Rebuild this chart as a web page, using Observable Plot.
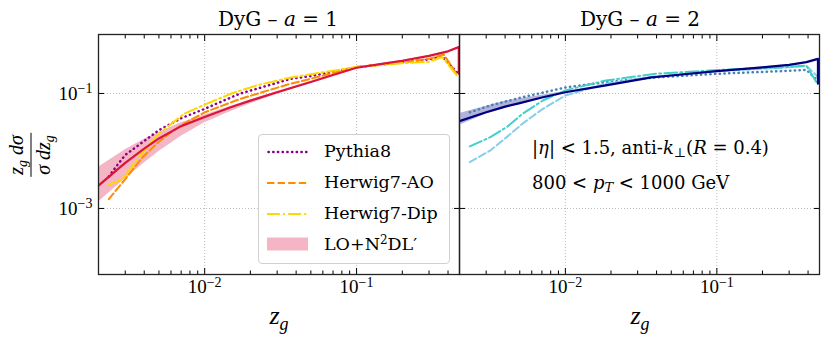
<!DOCTYPE html>
<html><head><meta charset="utf-8">
<script src="https://cdn.jsdelivr.net/npm/d3@7"></script>
<script src="https://cdn.jsdelivr.net/npm/@observablehq/plot@0.6"></script>
<style>
body{margin:0;background:#fff;}
#wrap{position:relative;width:830px;height:338px;font-family:"DejaVu Serif",serif;color:#000;overflow:hidden;}
.abs{position:absolute;white-space:nowrap;line-height:1;}
.title{font-size:20px;transform:translate(-50%,-50%);}
.xlab{font-family:"Liberation Serif",serif;font-size:26px;font-style:italic;transform:translate(-50%,-50%);}
.xlab sub{font-size:18px;vertical-align:-6px;}
.ann{font-size:18px;}
.legend{border:1px solid #d0d0d0;border-radius:4px;background:rgba(255,255,255,0.85);}
.lrow{position:absolute;left:0;height:20px;display:flex;align-items:center;font-size:17.5px;transform:translateY(-50%);}
.lrow svg{margin-left:8px;margin-right:16px;}
.ylab{font-family:"Liberation Serif",serif;transform:translate(-50%,-50%) rotate(-90deg);display:flex;flex-direction:column;align-items:center;font-size:20px;font-style:italic;}
.ylab .num{padding:0 2px 1px 2px;border-bottom:1px solid #000;}
.ylab .den{padding:1px 2px 0 2px;}
.ylab sub{font-size:14px;vertical-align:-4px;}
</style></head><body><div id="wrap"></div>
<script>
// ---------- axis ticks ----------
const X_DOMAIN = [0.002, 0.476];
const Y_DOMAIN = [7.1e-5, 1.06];
const X_MAJOR = [0.01, 0.1];
const X_MINOR = [0.003,0.004,0.005,0.006,0.007,0.008,0.009,0.02,0.03,0.04,0.05,0.06,0.07,0.08,0.09,0.2,0.3,0.4];
const Y_MAJOR = [0.1, 0.001];

// ---------- panel a = 1 ----------
const a1_theory_z = [0.002,0.003,0.004,0.005,0.007,0.01,0.015,0.02,0.03,0.05,0.07,0.1,0.15,0.2,0.3,0.4,0.471,0.471];
const a1_theory_y = [0.0025,0.0062,0.011,0.0165,0.027,0.039,0.058,0.075,0.105,0.158,0.21,0.28,0.33,0.37,0.45,0.54,0.64,0.22];
const a1_band_z  = [0.002,0.003,0.004,0.005,0.007,0.01,0.015,0.02,0.03,0.05,0.07,0.1,0.15,0.2,0.3,0.4,0.471];
const a1_band_lo = [0.0013,0.0033,0.0062,0.0098,0.018,0.031,0.049,0.066,0.097,0.15,0.203,0.274,0.325,0.363,0.443,0.532,0.63];
const a1_band_hi = [0.0052,0.0105,0.016,0.021,0.031,0.042,0.06,0.077,0.108,0.162,0.215,0.286,0.336,0.377,0.457,0.548,0.65];
const a1_py_z = [0.00234,0.0027,0.003,0.0035,0.005,0.007,0.01,0.017,0.037,0.05,0.1,0.2,0.3,0.366,0.46];
const a1_py_y = [0.0036,0.006,0.0085,0.0115,0.023,0.037,0.054,0.099,0.18,0.2,0.285,0.35,0.39,0.44,0.23];
const a1_ao_z = [0.00234,0.0027,0.0032,0.0039,0.005,0.006,0.007,0.01,0.0173,0.0368,0.05,0.1,0.2,0.3,0.375,0.46];
const a1_ao_y = [0.00145,0.0023,0.004,0.0078,0.0145,0.021,0.028,0.047,0.081,0.148,0.18,0.29,0.345,0.40,0.475,0.21];
const a1_dip_z = [0.00234,0.0028,0.0032,0.0037,0.0043,0.005,0.0073,0.01,0.015,0.022,0.037,0.05,0.1,0.2,0.3,0.366,0.46];
const a1_dip_y = [0.0026,0.0031,0.0047,0.0078,0.013,0.02,0.044,0.064,0.1,0.138,0.19,0.215,0.29,0.335,0.355,0.43,0.2];

// ---------- panel a = 2 ----------
const a2_theory_z = [0.002,0.003,0.004,0.005,0.007,0.01,0.0185,0.037,0.05,0.1,0.2,0.3,0.39,0.465,0.465];
const a2_theory_y = [0.033,0.047,0.059,0.068,0.085,0.105,0.138,0.19,0.205,0.245,0.285,0.315,0.35,0.40,0.148];
const a2_band_z  = [0.002,0.003,0.004,0.005,0.007,0.01,0.0185,0.037,0.05,0.1,0.2,0.3,0.39,0.465];
const a2_band_lo = [0.028,0.044,0.055,0.064,0.082,0.102,0.135,0.186,0.201,0.241,0.281,0.311,0.346,0.396];
const a2_band_hi = [0.045,0.060,0.073,0.081,0.093,0.108,0.141,0.194,0.209,0.249,0.289,0.319,0.354,0.404];
const a2_py_z = [0.00234,0.0032,0.0052,0.01,0.0185,0.04,0.1,0.27,0.39,0.46];
const a2_py_y = [0.047,0.062,0.086,0.127,0.157,0.19,0.22,0.245,0.258,0.17];
const a2_dip_z = [0.00234,0.0032,0.0041,0.0052,0.0071,0.01,0.0185,0.0394,0.1,0.274,0.39,0.46];
const a2_dip_y = [0.012,0.0174,0.026,0.044,0.0755,0.113,0.168,0.22,0.255,0.286,0.305,0.148];
const a2_ao_z = [0.00234,0.0032,0.0041,0.0052,0.0071,0.01,0.0185,0.0394,0.1,0.274,0.39,0.46];
const a2_ao_y = [0.0064,0.0102,0.0174,0.0297,0.054,0.092,0.148,0.198,0.245,0.28,0.30,0.2];

const seriesNames = ["Pythia8","Herwig7-AO","Herwig7-Dip"];

// ---------- styles ----------
const DASH = {py:"0.3,4.4", ao:"7.4,3.2", dip:"12.8,3.2,2,3.2"};
const COLORS1 = {py:"#8B008B", ao:"#FF8C00", dip:"#FFD700", line:"#DC143C", band:"#F4B6C4"};
const COLORS2 = {py:"#4682B4", ao:"#87CEEB", dip:"#40D0C8", line:"#000080", band:"#B3B3D9"};

const zip = (zs, ys) => zs.map((z,i) => ({z, y: ys[i]}));
const zipBand = (zs, lo, hi) => zs.map((z,i) => ({z, lo: lo[i], hi: hi[i]}));
const supFmt = d => "10^" + Math.round(Math.log10(d));

function panel(p){
  const marks = [
    Plot.gridX(X_MAJOR, {stroke:"#aaa", strokeOpacity:1, strokeWidth:0.8, strokeDasharray:"1,2"}),
    Plot.gridY(Y_MAJOR, {stroke:"#aaa", strokeOpacity:1, strokeWidth:0.8, strokeDasharray:"1,2"}),
    Plot.areaY(zipBand(p.bz, p.blo, p.bhi), {x:"z", y1:"lo", y2:"hi", fill:p.c.band, clip:true}),
    Plot.line(zip(p.py[0], p.py[1]), {x:"z", y:"y", stroke:p.c.py, strokeWidth:2.5, strokeLinecap:"round", strokeDasharray:DASH.py, clip:true}),
    Plot.line(zip(p.ao[0], p.ao[1]), {x:"z", y:"y", stroke:p.c.ao, strokeWidth:2, strokeDasharray:DASH.ao, clip:true}),
    Plot.line(zip(p.dip[0], p.dip[1]), {x:"z", y:"y", stroke:p.c.dip, strokeWidth:2, strokeDasharray:DASH.dip, clip:true}),
    Plot.line(zip(p.tz, p.ty), {x:"z", y:"y", stroke:p.c.line, strokeWidth:2.2, clip:true}),
    Plot.axisX(X_MAJOR, {anchor:"bottom", tickSize:-6, tickPadding:11, tickFormat:supFmt, label:null, fontSize:19}),
    Plot.axisX(X_MINOR, {anchor:"bottom", tickSize:-3.5, tickFormat:()=>"", label:null}),
    Plot.axisX(X_MAJOR, {anchor:"top", tickSize:-6, tickFormat:()=>"", label:null}),
    Plot.axisX(X_MINOR, {anchor:"top", tickSize:-3.5, tickFormat:()=>"", label:null}),
    Plot.axisY(Y_MAJOR, {anchor:"left", tickSize:-6, tickPadding: p.ylabels ? 12 : 0, tickFormat: p.ylabels ? supFmt : ()=>"", label:null, fontSize:19}),
    Plot.axisY(Y_MAJOR, {anchor:"right", tickSize:-6, tickFormat:()=>"", label:null}),
    Plot.frame({stroke:"#222", strokeWidth:1.3})
  ];
  const svg = Plot.plot({
    width: p.width, height: 338,
    marginLeft: p.ml, marginRight: p.mr, marginTop: 34, marginBottom: 64,
    style: {fontFamily:"'Liberation Serif', serif", fontSize:"19px", color:"#000", background:"transparent", overflow:"visible"},
    x: {type:"log", domain:X_DOMAIN, label:null},
    y: {type:"log", domain:Y_DOMAIN, label:null},
    marks
  });
  svg.querySelectorAll("text").forEach(t => {
    const m = /^10\^(-?\d+)$/.exec(t.textContent);
    if (!m) return;
    t.textContent = "10";
    const s = document.createElementNS("http://www.w3.org/2000/svg","tspan");
    s.setAttribute("dy","-0.45em");
    s.setAttribute("style","font-size:14px");
    s.textContent = m[1].replace("-","\u2212");
    t.appendChild(s);
  });
  svg.style.position = "absolute";
  svg.style.left = p.left + "px";
  svg.style.top = "0px";
  return svg;
}

const wrap = document.getElementById("wrap");
wrap.appendChild(panel({
  left:0, width:460, ml:98, mr:1, ylabels:true, c:COLORS1,
  tz:a1_theory_z, ty:a1_theory_y, bz:a1_band_z, blo:a1_band_lo, bhi:a1_band_hi,
  py:[a1_py_z,a1_py_y], ao:[a1_ao_z,a1_ao_y], dip:[a1_dip_z,a1_dip_y]
}));
wrap.appendChild(panel({
  left:459, width:371, ml:0, mr:11, ylabels:false, c:COLORS2,
  tz:a2_theory_z, ty:a2_theory_y, bz:a2_band_z, blo:a2_band_lo, bhi:a2_band_hi,
  py:[a2_py_z,a2_py_y], ao:[a2_ao_z,a2_ao_y], dip:[a2_dip_z,a2_dip_y]
}));

function add(html, cls, left, top){
  const d = document.createElement("div");
  d.className = "abs " + cls;
  d.style.left = left + "px"; d.style.top = top + "px";
  d.innerHTML = html;
  wrap.appendChild(d);
  return d;
}
// titles
add("DyG \u2013 <i>a</i> = 1", "title", 278, 19);
add("DyG \u2013 <i>a</i> = 2", "title", 640, 19);
// x labels
add("z<sub>g</sub>", "xlab", 279, 318);
add("z<sub>g</sub>", "xlab", 640, 318);
// y label
add('<span class="num">z<sub>g</sub> dσ</span><span class="den">σ dz<sub>g</sub></span>', "ylab", 31, 155);
// annotation
add("|<i>η</i>| &lt; 1.5, anti-<i>k</i><sub style='font-size:13px;vertical-align:-3px'>⊥</sub>(<i>R</i> = 0.4)", "ann", 532, 139);
add("800 &lt; <i>p</i><sub style='font-size:13px;vertical-align:-3px'><i>T</i></sub> &lt; 1000 GeV", "ann", 532, 174);

// legend
const leg = add("", "legend", 258, 134);
leg.style.width = "190px"; leg.style.height = "128px";
const legendItems = [
  {name: seriesNames[0], kind:"dot", color:COLORS1.py, dash:DASH.py, y:17},
  {name: seriesNames[1], kind:"line", color:COLORS1.ao, dash:DASH.ao, y:48},
  {name: seriesNames[2], kind:"line", color:COLORS1.dip, dash:DASH.dip, y:79},
  {name: "LO+N<sup style='font-size:12px;vertical-align:6px'>2</sup>DL\u2032", kind:"rect", color:COLORS1.band, y:109}
];
legendItems.forEach(it => {
  const r = document.createElement("div");
  r.className = "lrow";
  r.style.top = it.y + "px";
  const sample = it.kind === "rect"
    ? `<svg width="41" height="14"><rect x="0" y="0.5" width="41" height="13" fill="${it.color}"/></svg>`
    : `<svg width="41" height="14"><line x1="${it.kind === "dot" ? 1.5 : 0}" y1="7" x2="41" y2="7" stroke="${it.color}" stroke-width="${it.kind === "dot" ? 2.5 : 2}" stroke-linecap="${it.kind === "dot" ? "round" : "butt"}" stroke-dasharray="${it.dash}"/></svg>`;
  r.innerHTML = sample + "<span>" + it.name + "</span>";
  leg.appendChild(r);
});
</script>
</body></html>
